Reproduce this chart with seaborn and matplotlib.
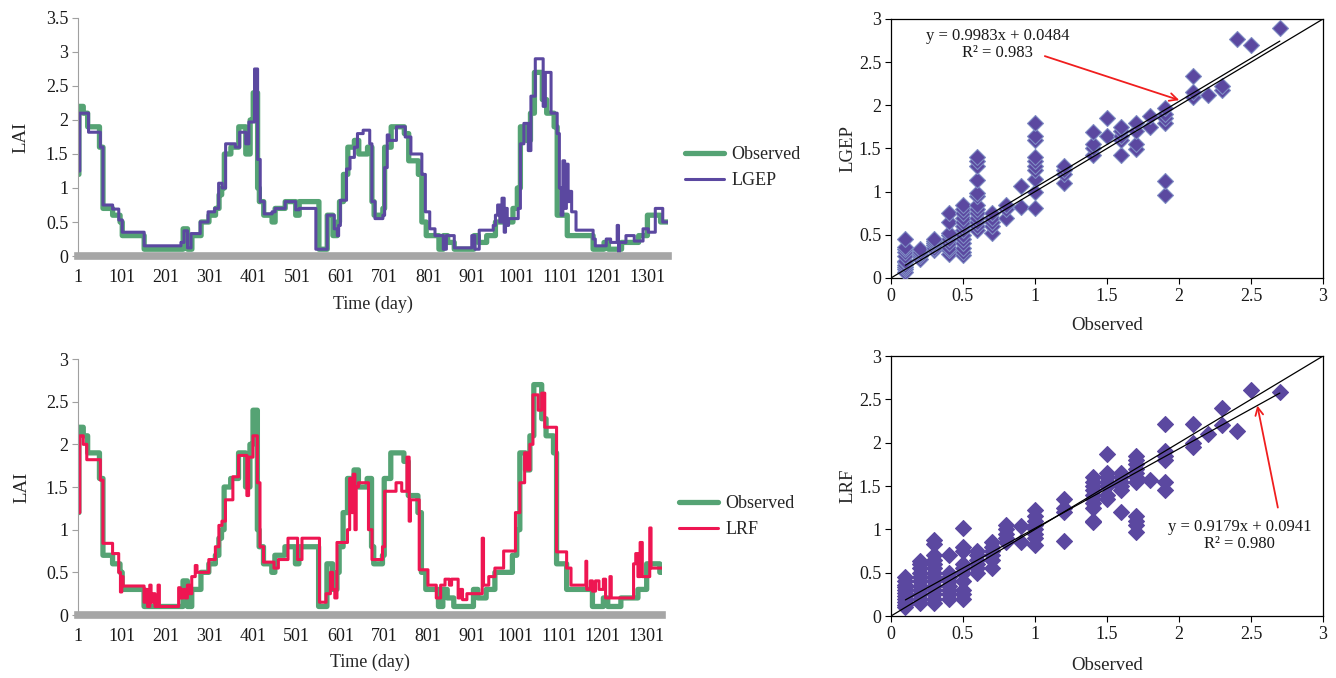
import numpy as np
import pandas as pd
import matplotlib
matplotlib.use("Agg")
import matplotlib.pyplot as plt
import seaborn as sns

# ---------------- time series data (step change points: day, LAI) ----------------
obs_days = [1, 3, 13, 23, 50, 58, 80, 97, 102, 152, 241, 251, 261, 282, 300, 315, 323, 329, 335,
            350, 368, 384, 394, 401, 411, 415, 425, 444, 451, 474, 498, 506, 551, 570, 583, 593,
            598, 607, 617, 632, 642, 662, 672, 677, 697, 701, 716, 746, 756, 778, 786, 796, 825,
            835, 845, 860, 905, 915, 934, 954, 994, 1004, 1011, 1024, 1034, 1043, 1061, 1071,
            1088, 1095, 1118, 1177, 1202, 1212, 1242, 1281, 1301, 1331]
obs_vals = [1.2, 2.2, 2.1, 1.9, 1.6, 0.7, 0.6, 0.5, 0.3, 0.1, 0.4, 0.1, 0.3, 0.5, 0.6, 0.7, 0.9, 1.0, 1.5,
            1.6, 1.9, 1.5, 2.0, 2.4, 1.0, 0.8, 0.6, 0.5, 0.7, 0.8, 0.6, 0.8, 0.1, 0.6, 0.3, 0.5,
            0.8, 1.2, 1.6, 1.7, 1.5, 1.6, 0.8, 0.6, 0.7, 1.6, 1.9, 1.8, 1.4, 1.2, 0.5, 0.3, 0.1,
            0.3, 0.2, 0.1, 0.3, 0.2, 0.3, 0.5, 0.7, 1.0, 1.9, 1.7, 2.1, 2.7, 2.3, 2.1,
            1.9, 0.6, 0.3, 0.1, 0.2, 0.1, 0.2, 0.3, 0.6, 0.5]

lgep_days = [1, 5, 25, 52, 58, 80, 94, 102, 152, 236, 243, 251, 259, 280, 298, 313, 322, 330, 338,
             360, 370, 384, 391, 404, 411, 417, 426, 444, 451, 474, 498, 506, 544, 570, 586, 593,
             596, 600, 614, 622, 632, 639, 652, 667, 672, 679, 697, 701, 707, 711, 728, 748, 761,
             786, 794, 804, 816, 835, 842, 860, 900, 907, 917, 949, 954, 959, 964, 969, 974, 977,
             981, 984, 1006, 1011, 1019, 1029, 1035, 1045, 1063, 1068, 1081, 1095, 1100, 1104,
             1108, 1112, 1116, 1120, 1123, 1128, 1138, 1177, 1182, 1207, 1217, 1232, 1235, 1237,
             1252, 1271, 1291, 1303, 1319, 1336]
lgep_vals = [1.25, 2.1, 1.82, 1.6, 0.75, 0.69, 0.53, 0.35, 0.15, 0.2, 0.37, 0.12, 0.33, 0.5, 0.65, 0.7, 1.07, 1.0, 1.65,
             1.6, 1.82, 1.65, 1.97, 2.75, 1.42, 0.8, 0.62, 0.65, 0.7, 0.8, 0.68, 0.7, 0.1, 0.6, 0.4, 0.3,
             0.45, 0.82, 1.28, 1.45, 1.6, 1.8, 1.85, 1.65, 0.8, 0.55, 0.6, 1.3, 1.78, 1.7, 1.9, 1.75, 1.5,
             1.2, 0.65, 0.4, 0.3, 0.1, 0.3, 0.12, 0.3, 0.1, 0.38, 0.45, 0.6, 0.75, 0.5, 0.85, 0.35, 0.7,
             0.45, 0.55, 0.7, 1.65, 1.95, 1.55, 2.35, 2.9, 2.2, 2.7, 2.1, 1.8, 1.0, 0.6,
             1.4, 0.7, 1.35, 0.8, 0.95, 0.65, 0.38, 0.25, 0.15, 0.25, 0.2, 0.45, 0.05, 0.2,
             0.3, 0.22, 0.4, 0.35, 0.7, 0.5]

lrf_days = [1, 5, 13, 21, 52, 58, 80, 94, 98, 101, 104, 152, 157, 160, 165, 168, 172, 177, 184, 187,
            231, 235, 241, 246, 251, 256, 261, 269, 273, 300, 315, 323, 330, 338, 355, 368, 387, 391,
            401, 411, 417, 425, 449, 459, 481, 503, 513, 553, 568, 578, 583, 588, 593, 617, 622, 627,
            630, 634, 637, 642, 665, 673, 697, 702, 728, 741, 753, 758, 761, 781, 801, 820, 830, 840,
            850, 855, 870, 875, 880, 890, 925, 928, 940, 954, 974, 1001, 1011, 1022, 1029, 1034,
            1041, 1053, 1061, 1068, 1095, 1118, 1128, 1162, 1164, 1172, 1177, 1184, 1192, 1202,
            1207, 1217, 1220, 1271, 1276, 1281, 1286, 1291, 1308, 1311]
lrf_vals = [1.2, 2.1, 2.0, 1.82, 1.58, 0.84, 0.72, 0.5, 0.27, 0.45, 0.34, 0.15, 0.3, 0.1, 0.35, 0.15, 0.25, 0.1, 0.35, 0.1,
            0.32, 0.2, 0.3, 0.2, 0.35, 0.25, 0.45, 0.58, 0.5, 0.65, 0.8, 1.05, 1.1, 1.35, 1.62, 1.87, 1.4, 1.85,
            2.1, 1.55, 0.8, 0.62, 0.55, 0.65, 0.9, 0.65, 0.9, 0.15, 0.25, 0.5, 0.3, 0.2, 0.85, 1.0, 1.6, 1.2,
            1.65, 1.0, 1.5, 1.55, 1.0, 0.65, 0.8, 1.45, 1.55, 1.45, 1.85, 1.1, 1.35, 0.53, 0.35, 0.2, 0.35, 0.42,
            0.35, 0.42, 0.2, 0.3, 0.18, 0.25, 0.9, 0.35, 0.45, 0.55, 0.75, 1.2, 1.55, 1.9, 1.7, 2.0,
            2.58, 2.4, 2.6, 2.2, 0.74, 0.55, 0.35, 0.63, 0.3, 0.4, 0.28, 0.4, 0.3, 0.42,
            0.2, 0.45, 0.2, 0.6, 0.72, 0.45, 0.85, 0.45, 1.02, 0.55]

n_days_top = 1348
n_days_bottom = 1336
x_tick_labels = [1, 101, 201, 301, 401, 501, 601, 701, 801, 901, 1001, 1101, 1201, 1301]

# ---------------- scatter data (observed value -> predicted values) ----------------
lgep_sc_obs = [0.1, 0.2, 0.3, 0.4, 0.5, 0.6, 0.7, 0.8, 0.9, 1.0, 1.2, 1.4, 1.5, 1.6, 1.7, 1.8,
               1.9, 2.1, 2.2, 2.3, 2.4, 2.5, 2.7]
lgep_sc_pred = [
    [0.07, 0.1, 0.13, 0.15, 0.18, 0.2, 0.25, 0.3, 0.33, 0.36, 0.45],
    [0.22, 0.25, 0.28, 0.3, 0.33],
    [0.32, 0.35, 0.38, 0.4, 0.43, 0.45],
    [0.28, 0.32, 0.35, 0.4, 0.45, 0.5, 0.52, 0.65, 0.75],
    [0.27, 0.3, 0.35, 0.4, 0.45, 0.5, 0.55, 0.6, 0.65, 0.7, 0.75, 0.8, 0.85],
    [0.55, 0.6, 0.65, 0.7, 0.75, 0.8, 0.85, 0.95, 0.98, 1.14, 1.3, 1.35, 1.4],
    [0.52, 0.6, 0.65, 0.7, 0.75],
    [0.69, 0.8, 0.85],
    [0.82, 1.07],
    [0.81, 1.0, 1.15, 1.25, 1.3, 1.35, 1.4, 1.6, 1.65, 1.8],
    [1.1, 1.2, 1.25, 1.3],
    [1.42, 1.5, 1.55, 1.69],
    [1.64, 1.85],
    [1.43, 1.6, 1.65, 1.7, 1.75],
    [1.49, 1.55, 1.7, 1.8],
    [1.75, 1.88],
    [0.96, 1.12, 1.8, 1.85, 1.9, 1.97],
    [2.1, 2.15, 2.34],
    [2.12],
    [2.18, 2.22],
    [2.77],
    [2.7],
    [2.9],
]
lrf_sc_obs = [0.1, 0.2, 0.3, 0.4, 0.5, 0.6, 0.7, 0.8, 0.9, 1.0, 1.2, 1.4, 1.5, 1.6, 1.7, 1.8,
              1.9, 2.1, 2.2, 2.3, 2.4, 2.5, 2.7]
lrf_sc_pred = [
    [0.1, 0.13, 0.16, 0.2, 0.23, 0.26, 0.3, 0.33, 0.36, 0.4, 0.45],
    [0.15, 0.2, 0.25, 0.3, 0.35, 0.4, 0.45, 0.5, 0.55, 0.6, 0.63],
    [0.15, 0.2, 0.25, 0.3, 0.35, 0.4, 0.45, 0.5, 0.55, 0.6, 0.65, 0.7, 0.83, 0.88],
    [0.2, 0.25, 0.3, 0.35, 0.4, 0.45, 0.5, 0.7],
    [0.2, 0.25, 0.3, 0.4, 0.5, 0.55, 0.6, 0.75, 0.8, 1.02],
    [0.5, 0.55, 0.6, 0.65, 0.7, 0.75],
    [0.55, 0.65, 0.7, 0.75, 0.8, 0.85],
    [0.85, 0.9, 0.95, 1.0, 1.05],
    [0.85, 1.04],
    [0.82, 0.9, 0.95, 1.0, 1.05, 1.1, 1.15, 1.22],
    [0.86, 1.2, 1.25, 1.35],
    [1.08, 1.1, 1.25, 1.3, 1.35, 1.4, 1.45, 1.5, 1.55, 1.6],
    [1.35, 1.4, 1.5, 1.55, 1.6, 1.65, 1.87],
    [1.2, 1.45, 1.5, 1.55, 1.6, 1.65],
    [0.97, 1.05, 1.1, 1.15, 1.55, 1.6, 1.65, 1.7, 1.75, 1.8, 1.85],
    [1.57],
    [1.45, 1.55, 1.8, 1.85, 1.9, 2.21],
    [1.95, 2.0, 2.21],
    [2.1],
    [2.2, 2.4],
    [2.13],
    [2.61],
    [2.58],
]

lgep_fit = [0.9983, 0.0484]   # slope, intercept
lgep_r2 = 0.983
lrf_fit = [0.9179, 0.0941]
lrf_r2 = 0.980

# ---------------- styling ----------------
sns.set_theme(style="white")
plt.rcParams['font.family'] = ['Liberation Serif', 'DejaVu Serif']
FS = 13

C_OBS = '#55A374'
C_LGEP = '#5B48A0'
C_LRF = '#EE1652'
C_GREY = '#A6A6A6'


def expand(days, vals, n):
    d = np.arange(1, n + 1)
    idx = np.searchsorted(np.asarray(days), d, side='right') - 1
    return d, np.asarray(vals)[idx]


fmt = matplotlib.ticker.FuncFormatter(lambda v, p: f"{v:g}")

fig = plt.figure(figsize=(13.36, 6.78), dpi=100)
ax1 = fig.add_axes([0.0584, 0.6224, 0.4416, 0.3511])
ax2 = fig.add_axes([0.0584, 0.0929, 0.4371, 0.3776])
ax3 = fig.add_axes([0.6669, 0.5900, 0.3234, 0.3820])
ax4 = fig.add_axes([0.6669, 0.0914, 0.3234, 0.3835])


def ts_panel(ax, model_days, model_vals, n, color, name, ymax, leg_xy, xlab_y):
    d, o = expand(obs_days, obs_vals, n)
    _, m = expand(model_days, model_vals, n)
    df = pd.DataFrame({'day': d, 'Observed': o, name: m})
    sns.lineplot(data=df, x='day', y='Observed', ax=ax, color=C_OBS, lw=3.8,
                 drawstyle='steps-post', estimator=None, label='Observed', legend=False)
    sns.lineplot(data=df, x='day', y=name, ax=ax, color=color, lw=2.2,
                 drawstyle='steps-post', estimator=None, label=name, legend=False)
    ax.set_xlim(1, n)
    ax.set_ylim(0, ymax)
    ax.set_xticks(x_tick_labels)
    ax.set_xticklabels([str(t) for t in x_tick_labels])
    ax.set_yticks(np.arange(0, ymax + 0.01, 0.5))
    ax.yaxis.set_major_formatter(fmt)
    for s in ['top', 'right']:
        ax.spines[s].set_visible(False)
    ax.spines['left'].set_color('#A0A0A0')
    ax.spines['left'].set_linewidth(0.8)
    ax.spines['bottom'].set_color(C_GREY)
    ax.spines['bottom'].set_linewidth(5.5)
    ax.tick_params(axis='x', length=0, pad=9, labelsize=FS, colors='#1a1a1a')
    ax.tick_params(axis='y', length=4, width=0.8, color='#A0A0A0', direction='out',
                   left=True, pad=3, labelsize=FS, labelcolor='#1a1a1a')
    ax.set_xlabel('Time (day)', fontsize=FS)
    ax.set_ylabel('LAI', fontsize=FS + 0.5)
    ax.yaxis.set_label_coords(-0.082, 0.5)
    ax.xaxis.set_label_coords(0.5, xlab_y)
    h, l = ax.get_legend_handles_labels()
    fig.legend(h, l, loc='center left', bbox_to_anchor=leg_xy, frameon=False,
               fontsize=FS, handlelength=2.2, handletextpad=0.4, labelspacing=0.5,
               borderpad=0, borderaxespad=0)


ts_panel(ax1, lgep_days, lgep_vals, n_days_top, C_LGEP, 'LGEP', 3.5, (0.5125, 0.753), -0.165)
ts_panel(ax2, lrf_days, lrf_vals, n_days_bottom, C_LRF, 'LRF', 3.0, (0.508, 0.2375), -0.153)


def sc_panel(ax, sc_obs, sc_pred, name, fit, r2, edge, ew, text_xy, arrow_from, arrow_to, xlab_y):
    xs_all = [x for x, ys in zip(sc_obs, sc_pred) for _ in ys]
    ys_all = [y for ys in sc_pred for y in ys]
    pts = pd.DataFrame({'Observed': xs_all, name: ys_all})
    sns.scatterplot(data=pts, x='Observed', y=name, ax=ax, marker='D', s=66,
                    color=C_LGEP, edgecolor=edge, linewidth=ew, zorder=3)
    ax.plot([0, 3], [0, 3], color='black', lw=0.9, zorder=4)
    xs = np.array([pts['Observed'].min(), pts['Observed'].max()])
    ax.plot(xs, fit[0] * xs + fit[1], color='black', lw=0.9, zorder=4)
    ax.set_xlim(0, 3)
    ax.set_ylim(0, 3)
    ax.set_xticks(np.arange(0, 3.01, 0.5))
    ax.set_yticks(np.arange(0, 3.01, 0.5))
    ax.xaxis.set_major_formatter(fmt)
    ax.yaxis.set_major_formatter(fmt)
    for s in ax.spines.values():
        s.set_color('black')
        s.set_linewidth(0.9)
    ax.tick_params(length=4, width=0.8, color='black', direction='out', bottom=True, left=True,
                   labelsize=FS, labelcolor='#1a1a1a', pad=3)
    ax.set_xlabel('Observed', fontsize=FS + 0.5)
    ax.set_ylabel(name, fontsize=FS + 0.5)
    ax.yaxis.set_label_coords(-0.08, 0.5)
    ax.xaxis.set_label_coords(0.5, xlab_y)
    txt = f"y = {fit[0]:.4f}x + {fit[1]:.4f}\nR\u00b2 = {r2:.3f}"
    ax.text(text_xy[0], text_xy[1], txt, ha='center', va='center', fontsize=FS - 1,
            color='#1a1a1a', linespacing=1.1, zorder=6)
    ax.annotate('', xy=arrow_to, xytext=arrow_from,
                arrowprops=dict(arrowstyle='->', color='#F01E1E', lw=1.3,
                                mutation_scale=14), zorder=6)


sc_panel(ax3, lgep_sc_obs, lgep_sc_pred, 'LGEP', lgep_fit, lgep_r2, '#7E8CC4', 0.8, (0.74, 2.7),
         (1.05, 2.58), (2.02, 2.05), -0.15)
sc_panel(ax4, lrf_sc_obs, lrf_sc_pred, 'LRF', lrf_fit, lrf_r2, C_LGEP, 0.8, (2.42, 0.93),
         (2.69, 1.22), (2.54, 2.46), -0.158)

fig.savefig('out.png', dpi=100)
